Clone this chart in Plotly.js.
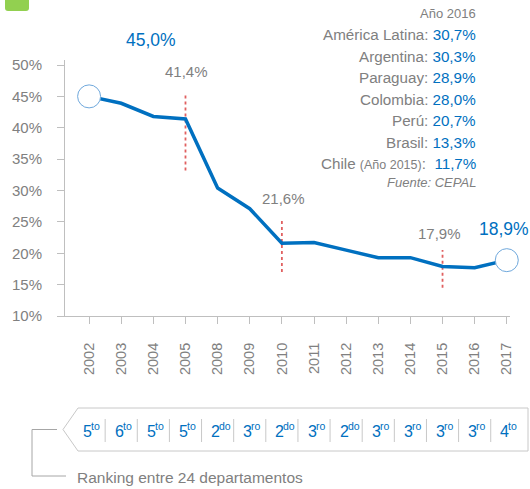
<!DOCTYPE html>
<html><head><meta charset="utf-8">
<script src="https://cdn.plot.ly/plotly-3.0.1.min.js"></script>
<style>html,body{margin:0;padding:0;background:#fff;}#chart{width:530px;height:489px;}</style>
</head><body><div id="chart"></div>
<script>
// ---- data ----
const years = ["2002","2003","2004","2005","2008","2009","2010","2011","2012","2013","2014","2015","2016","2017"];
const values = [45.0, 43.9, 41.8, 41.4, 30.4, 27.1, 21.6, 21.7, 20.5, 19.3, 19.3, 17.9, 17.7, 18.9];
const rankNum = ["5","6","5","5","2","3","2","3","2","3","3","3","3","4"];
const rankSuf = ["to","to","to","to","do","ro","do","ro","do","ro","ro","ro","ro","to"];
const compCountries = ["América Latina","Argentina","Paraguay","Colombia","Perú","Brasil","Chile"];
const compValues = [30.7, 30.3, 28.9, 28.0, 20.7, 13.3, 11.7];
const highlightYears = ["2005","2010","2015"];

// ---- helpers ----
const FONT = "'Liberation Sans',Arial,sans-serif";
const GRAY = "#808080", BLUE = "#0070c0", AX = "#bfbfbf";
const L = 65, R = 20, T = 60, B = 173, W = 530, H = 489;
const PW = W - L - R, PH = H - T - B;
const px = x => (x - L) / PW;
const py = y => (T + PH - y) / PH;
const fmt = v => v.toFixed(1).replace('.', ',') + '%';

const first = 0, last = years.length - 1;
const trace = {
  x: years, y: values, type: 'scatter', mode: 'lines',
  line: {color: BLUE, width: 3.5}, hoverinfo: 'skip'
};
const ends = {
  x: [years[first], years[last]], y: [values[first], values[last]], type: 'scatter', mode: 'markers',
  marker: {size: 23, color: '#ffffff', line: {color: '#6fa8dc', width: 1}}, cliponaxis: false, hoverinfo: 'skip'
};

const annotations = [];
const shapes = [];

// value labels
annotations.push({x: first, y: values[first], xref: 'x', yref: 'y', text: fmt(values[first]),
  showarrow: false, xshift: 62, yshift: 56, font: {family: FONT, size: 17.5, color: BLUE}});
annotations.push({x: last, y: values[last], xref: 'x', yref: 'y', text: fmt(values[last]),
  showarrow: false, xshift: -3, yshift: 31, font: {family: FONT, size: 17.5, color: BLUE}});
const hlShift = [{xs: 1, ys: 47}, {xs: 2, ys: 45}, {xs: -3, ys: 33}];
highlightYears.forEach((yr, k) => {
  const i = years.indexOf(yr);
  annotations.push({x: i, y: values[i], xref: 'x', yref: 'y', text: fmt(values[i]),
    showarrow: false, xshift: hlShift[k].xs, yshift: hlShift[k].ys, font: {family: FONT, size: 15, color: GRAY}});
});

// red dotted markers
const hlSpan = [[33.2, 45.2], [17.0, 25.3], [14.5, 20.5]];
highlightYears.forEach((yr, k) => {
  const i = years.indexOf(yr);
  shapes.push({type: 'line', xref: 'x', yref: 'y', x0: i, x1: i, y0: hlSpan[k][0], y1: hlSpan[k][1],
    line: {color: '#e06060', width: 1.8, dash: 'dot'}, layer: 'below'});
});

// comparison block
const rightX = px(478);
annotations.push({xref: 'paper', yref: 'paper', x: rightX, y: py(13.5), xanchor: 'right', yanchor: 'middle',
  text: 'Año 2016', showarrow: false, font: {family: FONT, size: 13, color: GRAY}});
compCountries.forEach((c, k) => {
  let lab = c;
  let sep = ': ';
  if (c === 'Chile') { lab = 'Chile <span style="font-size:12.5px">(Año 2015)</span>'; sep = ':&nbsp; '; }
  annotations.push({xref: 'paper', yref: 'paper', x: rightX, y: py(34.5 + 21.5 * k), xanchor: 'right', yanchor: 'middle',
    text: lab + sep + '<span style="color:' + BLUE + '">' + fmt(compValues[k]) + '</span>',
    showarrow: false, font: {family: FONT, size: 15.2, color: GRAY}});
});
annotations.push({xref: 'paper', yref: 'paper', x: rightX, y: py(182.5), xanchor: 'right', yanchor: 'middle',
  text: '<i>Fuente: CEPAL</i>', showarrow: false, font: {family: FONT, size: 13, color: GRAY}});

// ranking box
const pt = (a, b) => px(a) + ',' + py(b);
shapes.push({type: 'path', xref: 'paper', yref: 'paper',
  path: 'M' + pt(63, 429.5) + ' L' + pt(78, 408) + ' L' + pt(528, 408) + ' L' + pt(528, 451) + ' L' + pt(78, 451) + ' Z',
  line: {color: '#c8c8c8', width: 1}, fillcolor: 'rgba(0,0,0,0)'});
for (let i = 0; i < years.length - 1; i++) {
  shapes.push({type: 'line', xref: 'x', yref: 'paper', x0: i + 0.5, x1: i + 0.5, y0: py(419), y1: py(442),
    line: {color: '#c8c8c8', width: 1}});
}
years.forEach((yr, i) => {
  annotations.push({x: i, xref: 'x', yref: 'paper', y: py(431), yanchor: 'middle', xanchor: 'right', xshift: 3.5,
    borderpad: 0, text: rankNum[i], showarrow: false, font: {family: FONT, size: 16, color: BLUE}});
  annotations.push({x: i, xref: 'x', yref: 'paper', y: py(426), yanchor: 'middle', xanchor: 'left', xshift: 0.5,
    borderpad: 0, text: rankSuf[i], showarrow: false, font: {family: FONT, size: 10.5, color: BLUE}});
});
// bracket
shapes.push({type: 'path', xref: 'paper', yref: 'paper',
  path: 'M' + pt(57, 429.5) + ' L' + pt(32, 429.5) + ' L' + pt(32, 476) + ' L' + pt(66, 476),
  line: {color: '#a6a6a6', width: 1}});
annotations.push({xref: 'paper', yref: 'paper', x: px(75), y: py(477), xanchor: 'left', yanchor: 'middle',
  text: 'Ranking entre 24 departamentos', showarrow: false, font: {family: FONT, size: 15.5, color: GRAY}});

// green tab
shapes.push({type: 'path', xref: 'paper', yref: 'paper',
  path: 'M' + pt(5, -2) + ' L' + pt(29, -2) + ' L' + pt(29, 8) + ' Q' + pt(29, 11) + ' ' + pt(26, 11) +
        ' L' + pt(8, 11) + ' Q' + pt(5, 11) + ' ' + pt(5, 8) + ' Z',
  line: {width: 0}, fillcolor: '#92d050'});

const layout = {
  width: W, height: H,
  margin: {l: L, r: R, t: T, b: B, pad: 0},
  paper_bgcolor: '#fff', plot_bgcolor: '#fff',
  showlegend: false,
  font: {family: FONT, color: GRAY},
  xaxis: {
    type: 'category', range: [-0.75, 13.1], showgrid: false, zeroline: false,
    showline: true, linecolor: AX, linewidth: 1,
    ticks: 'outside', ticklen: 7, tickcolor: AX, tickwidth: 1,
    tickangle: -90, tickfont: {family: FONT, size: 14.5, color: GRAY}, ticklabelstandoff: 13
  },
  yaxis: {
    range: [10, 50.8], tickvals: [10, 15, 20, 25, 30, 35, 40, 45, 50],
    ticktext: ['10%', '15%', '20%', '25%', '30%', '35%', '40%', '45%', '50%'],
    showgrid: false, zeroline: false, showline: true, linecolor: AX, linewidth: 1,
    ticks: 'outside', ticklen: 7, tickcolor: AX, tickwidth: 1,
    tickfont: {family: FONT, size: 15, color: GRAY}, ticklabelstandoff: 12
  },
  annotations: annotations,
  shapes: shapes
};

Plotly.newPlot('chart', [trace, ends], layout, {displayModeBar: false, staticPlot: true});
</script>
</body></html>
